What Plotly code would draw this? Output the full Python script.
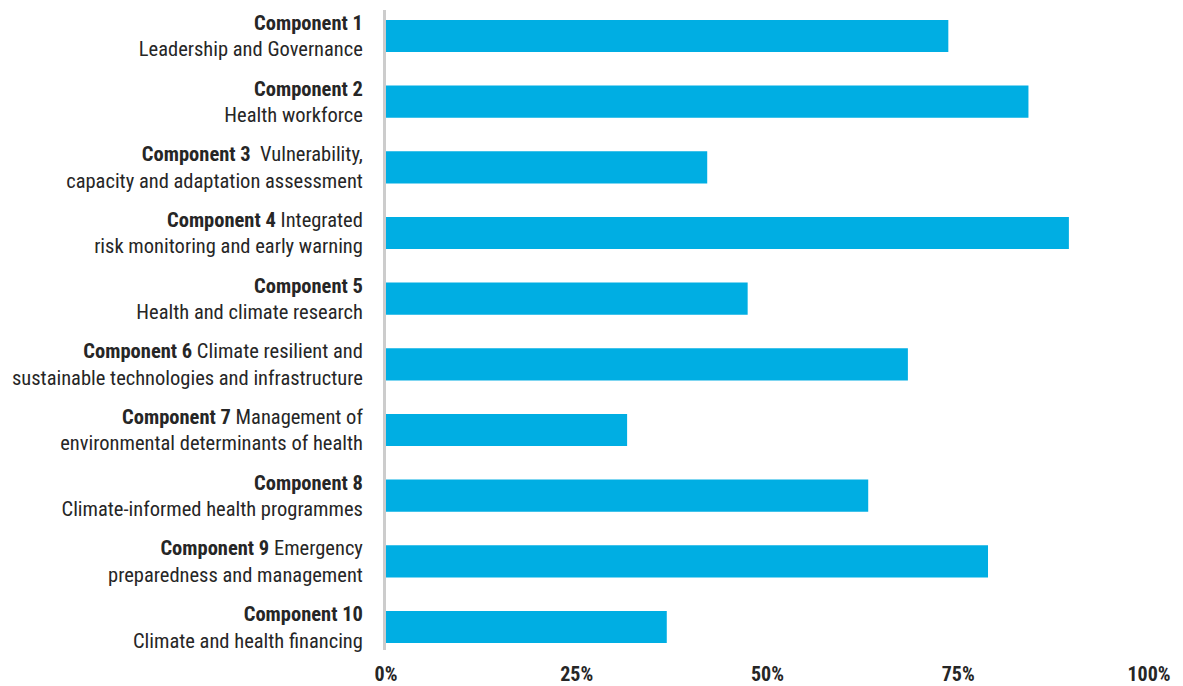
import plotly.graph_objects as go

component_titles = ["Component 1", "Component 2", "Component 3", "Component 4", "Component 5",
                    "Component 6", "Component 7", "Component 8", "Component 9", "Component 10"]
line1_rest = ["", "", "  Vulnerability,", " Integrated", "",
              " Climate resilient and", " Management of", "", " Emergency", ""]
line2 = ["Leadership and Governance", "Health workforce",
         "capacity and adaptation assessment", "risk monitoring and early warning",
         "Health and climate research", "sustainable technologies and infrastructure",
         "environmental determinants of health", "Climate-informed health programmes",
         "preparedness and management", "Climate and health financing"]
values = [73.7, 84.2, 42.1, 89.5, 47.4, 68.4, 31.6, 63.2, 78.9, 36.8]
tick_vals = [0, 25, 50, 75, 100]
tick_text = ["0%", "25%", "50%", "75%", "100%"]

labels = [f"<b>{t}</b>{r}<br>{l2}" for t, r, l2 in zip(component_titles, line1_rest, line2)]
cats = list(range(len(values)))

FONT = "Liberation Sans Narrow, Roboto Condensed, Roboto, sans-serif"

fig = go.Figure(go.Bar(
    x=values, y=cats, orientation="h",
    marker=dict(color="#00AEE3", line=dict(width=0)),
    width=0.49, hoverinfo="x",
))

fig.update_layout(
    width=1183, height=686,
    margin=dict(l=386, r=34, t=10, b=36),
    paper_bgcolor="white", plot_bgcolor="white",
    font=dict(family=FONT, size=20.5, color="#262626"),
    showlegend=False,
    bargap=0.5,
)
fig.update_xaxes(
    range=[0, 100], tickvals=tick_vals, ticktext=tick_text,
    showgrid=False, zeroline=False, showline=False,
    tickfont=dict(family=FONT, size=20, color="#262626", weight="bold"),
    ticks="outside", ticklen=6, tickcolor="rgba(0,0,0,0)",
    automargin=False, fixedrange=True,
)
fig.update_yaxes(
    tickvals=cats, ticktext=labels, range=[9.35, -0.396],
    showgrid=False, zeroline=False,
    showline=True, linecolor="#cccccc", linewidth=3,
    ticks="outside", ticklen=16, tickcolor="rgba(0,0,0,0)",
    tickfont=dict(family=FONT, size=20.5, color="#262626"),
    automargin=False, fixedrange=True,
)

fig.write_html("out.html", config={"displayModeBar": False},
               post_script="document.body.style.margin='0';")
